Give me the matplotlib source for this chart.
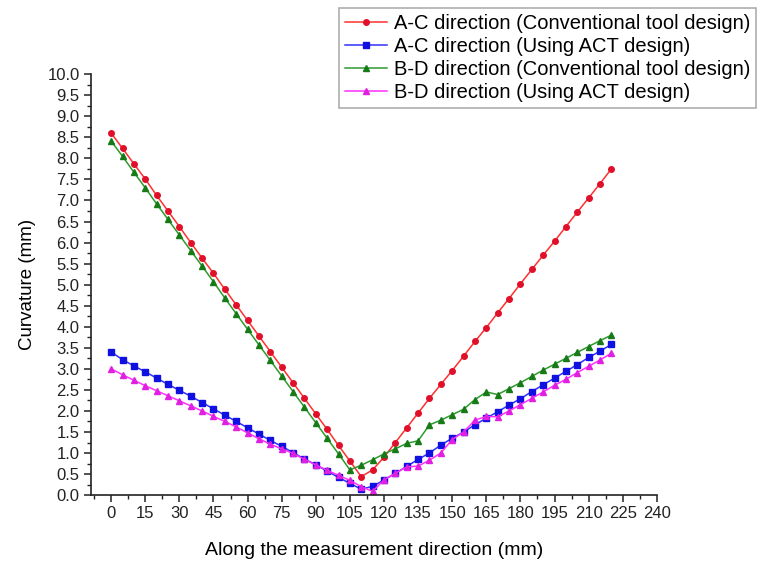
import matplotlib
matplotlib.use("Agg")
import matplotlib.pyplot as plt
from matplotlib.ticker import MultipleLocator

plt.rcParams['font.family'] = ['Liberation Sans', 'DejaVu Sans']

# posicoes ao longo da direcao de medicao (mm)
distancia = list(range(0, 225, 5))

ac_convencional = [8.60, 8.24, 7.87, 7.51, 7.12, 6.75, 6.38, 6.00, 5.63, 5.27,
                   4.89, 4.52, 4.15, 3.78, 3.41, 3.04, 2.67, 2.30, 1.93, 1.56,
                   1.18, 0.81, 0.44, 0.60, 0.90, 1.25, 1.60, 1.95, 2.30, 2.63,
                   2.96, 3.30, 3.65, 3.98, 4.33, 4.67, 5.02, 5.36, 5.70, 6.03,
                   6.38, 6.72, 7.06, 7.40, 7.75]
ac_act = [3.40, 3.22, 3.07, 2.93, 2.78, 2.63, 2.49, 2.35, 2.20, 2.05,
          1.90, 1.75, 1.60, 1.45, 1.30, 1.16, 1.01, 0.86, 0.72, 0.57,
          0.42, 0.28, 0.14, 0.21, 0.36, 0.52, 0.68, 0.85, 1.00, 1.19,
          1.35, 1.50, 1.67, 1.83, 1.98, 2.14, 2.29, 2.46, 2.62, 2.78,
          2.94, 3.10, 3.27, 3.42, 3.58]
bd_convencional = [8.41, 8.05, 7.67, 7.30, 6.92, 6.55, 6.18, 5.81, 5.44, 5.07,
                   4.68, 4.31, 3.94, 3.57, 3.20, 2.83, 2.46, 2.09, 1.72, 1.35,
                   0.98, 0.60, 0.71, 0.84, 0.98, 1.10, 1.23, 1.29, 1.67, 1.78,
                   1.91, 2.04, 2.27, 2.45, 2.39, 2.53, 2.67, 2.82, 2.97, 3.11,
                   3.25, 3.39, 3.53, 3.67, 3.80]
bd_act = [3.00, 2.86, 2.73, 2.60, 2.48, 2.36, 2.24, 2.12, 2.00, 1.87,
          1.75, 1.62, 1.48, 1.34, 1.21, 1.10, 0.99, 0.85, 0.72, 0.59,
          0.47, 0.35, 0.20, 0.09, 0.36, 0.52, 0.67, 0.69, 0.83, 1.00,
          1.32, 1.50, 1.78, 1.87, 1.86, 2.00, 2.15, 2.30, 2.45, 2.61,
          2.75, 2.91, 3.06, 3.21, 3.37]

nomes = ['A-C direction (Conventional tool design)',
         'A-C direction (Using ACT design)',
         'B-D direction (Conventional tool design)',
         'B-D direction (Using ACT design)']

fig = plt.figure(figsize=(7.62, 5.62), dpi=100)
ax = fig.add_axes([0.119, 0.119, 0.743, 0.749])

ax.plot(distancia, ac_convencional, color='#ff3030', marker='o', markersize=4,
        markerfacecolor='#e0102a', markeredgecolor='#e0102a', lw=1.1, label=nomes[0])
ax.plot(distancia, ac_act, color='#3030ff', marker='s', markersize=3.8,
        markerfacecolor='#1010e0', markeredgecolor='#1010e0', lw=1.1, label=nomes[1])
ax.plot(distancia, bd_convencional, color='#2e9a2e', marker='^', markersize=5,
        markerfacecolor='#167a16', markeredgecolor='#167a16', lw=1.1, label=nomes[2])
ax.plot(distancia, bd_act, color='#ff30ff', marker='^', markersize=5,
        markerfacecolor='#e020e0', markeredgecolor='#e020e0', lw=1.1, label=nomes[3])

ax.set_xlim(-9, 240)
ax.set_ylim(0, 10)
ax.xaxis.set_major_locator(MultipleLocator(15))
ax.xaxis.set_minor_locator(MultipleLocator(7.5))
ax.yaxis.set_major_locator(MultipleLocator(0.5))
ax.yaxis.set_minor_locator(MultipleLocator(0.25))
ax.yaxis.set_major_formatter(plt.FormatStrFormatter('%.1f'))
ax.set_xticks(range(0, 241, 15))

ax.spines['top'].set_visible(False)
ax.spines['right'].set_visible(False)
ax.spines['left'].set_bounds(0, 10)
ax.spines['bottom'].set_bounds(-9, 240)
for s in ('left', 'bottom'):
    ax.spines[s].set_linewidth(1.2)
    ax.spines[s].set_color('#222222')

ax.tick_params(which='major', direction='out', length=5, width=1.1, labelsize=12,
               colors='#222222', pad=3)
ax.tick_params(which='minor', direction='out', length=3, width=1.0, colors='#222222')

ax.set_xlabel('Along the measurement direction (mm)', fontsize=14, labelpad=15)
ax.set_ylabel('Curvature (mm)', fontsize=13.5, labelpad=8)

leg = fig.legend(loc='upper right', bbox_to_anchor=(0.998, 0.993), fontsize=14.5,
                 frameon=True, fancybox=False, handlelength=2.1, handletextpad=0.35,
                 borderpad=0.3, labelspacing=0.2, borderaxespad=0.2)
leg.get_frame().set_edgecolor('#999999')
leg.get_frame().set_linewidth(1.2)

fig.savefig('out.png', dpi=100)
plt.close(fig)
